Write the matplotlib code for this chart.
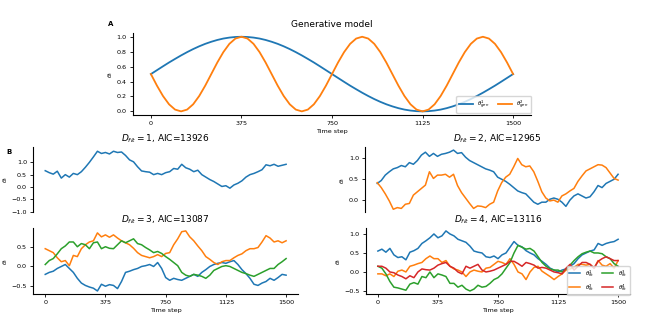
import numpy as np
import matplotlib
matplotlib.use("Agg")
import matplotlib.pyplot as plt

# time grid: one value every 25 steps
t = np.arange(0, 1501, 25)

# panel A: generative model
gen1 = [0.5, .552, .604, .655, .703, .75, .794, .835, .872, .905, .933, .957, .976, .989, .997, 1.0,
        .997, .989, .976, .957, .933, .905, .872, .835, .794, .75, .703, .655, .604, .552, .5,
        .448, .396, .345, .297, .25, .206, .165, .128, .095, .067, .043, .024, .011, .003, 0.0,
        .003, .011, .024, .043, .067, .095, .128, .165, .206, .25, .297, .345, .396, .448, .5]
_per = [.5, .345, .206, .095, .024, 0.0, .024, .095, .206, .345, .5, .655, .794, .905, .976, 1.0, .976, .905, .794, .655]
gen2 = _per + _per + _per + [.5]

# panel B, D_fit = 1
fit1_1 = [0.66, 0.58, 0.52, 0.64, 0.36, 0.50, 0.40, 0.55, 0.50, 0.62, 0.80, 1.00, 1.22, 1.45, 1.36, 1.40,
          1.34, 1.45, 1.40, 1.42, 1.28, 1.10, 1.02, 0.82, 0.65, 0.62, 0.60, 0.50, 0.55, 0.50, 0.58, 0.62,
          0.75, 0.72, 0.92, 0.78, 0.72, 0.62, 0.68, 0.50, 0.40, 0.30, 0.22, 0.12, 0.02, 0.05, -0.05, 0.08,
          0.15, 0.25, 0.40, 0.50, 0.55, 0.62, 0.70, 0.90, 0.86, 0.92, 0.84, 0.88, 0.92]

# D_fit = 2
fit2_1 = [0.40, 0.47, 0.60, 0.68, 0.75, 0.78, 0.83, 0.80, 0.90, 0.86, 0.95, 1.08, 1.15, 1.05, 1.12, 1.05,
          1.10, 1.12, 1.15, 1.20, 1.12, 1.14, 1.03, 0.95, 0.90, 0.85, 0.80, 0.75, 0.72, 0.68, 0.55, 0.50,
          0.45, 0.38, 0.30, 0.22, 0.18, 0.15, 0.05, -0.05, -0.10, -0.05, -0.05, 0.02, 0.05, 0.02, -0.05, -0.15,
          0.00, 0.10, 0.15, 0.10, 0.05, 0.08, 0.20, 0.35, 0.30, 0.40, 0.45, 0.50, 0.62]
fit2_2 = [0.42, 0.30, 0.15, -0.02, -0.22, -0.18, -0.20, -0.10, -0.08, 0.12, 0.20, 0.28, 0.36, 0.68, 0.52, 0.60,
          0.60, 0.62, 0.55, 0.62, 0.35, 0.18, 0.05, -0.08, -0.20, -0.14, -0.15, -0.18, -0.10, -0.05, 0.22, 0.42,
          0.55, 0.62, 0.80, 1.00, 0.85, 0.80, 0.82, 0.68, 0.45, 0.20, 0.05, -0.02, 0.00, -0.05, 0.10, 0.15,
          0.22, 0.28, 0.45, 0.58, 0.70, 0.75, 0.80, 0.85, 0.84, 0.78, 0.65, 0.52, 0.48]

# D_fit = 3
fit3_1 = [-0.20, -0.15, -0.12, -0.05, 0.00, 0.05, -0.05, -0.15, -0.30, -0.42, -0.48, -0.52, -0.55, -0.62, -0.45, -0.50,
          -0.46, -0.48, -0.56, -0.38, -0.15, -0.12, -0.08, -0.05, 0.00, 0.02, 0.05, 0.00, 0.10, -0.05, -0.28, -0.35,
          -0.30, -0.33, -0.35, -0.30, -0.25, -0.20, -0.25, -0.15, -0.08, 0.00, 0.05, 0.08, 0.10, 0.08, 0.12, 0.15,
          0.05, -0.08, -0.18, -0.30, -0.45, -0.48, -0.42, -0.38, -0.30, -0.35, -0.28, -0.20, -0.22]
fit3_2 = [0.45, 0.40, 0.35, 0.22, 0.12, 0.15, 0.02, 0.28, 0.25, 0.45, 0.55, 0.62, 0.65, 0.85, 0.75, 0.80,
          0.74, 0.80, 0.72, 0.65, 0.60, 0.55, 0.46, 0.35, 0.28, 0.25, 0.22, 0.25, 0.30, 0.25, 0.33, 0.35,
          0.55, 0.70, 0.88, 0.90, 0.75, 0.65, 0.52, 0.40, 0.25, 0.18, 0.10, 0.05, 0.12, 0.15, 0.15, 0.22,
          0.28, 0.32, 0.40, 0.45, 0.45, 0.48, 0.62, 0.78, 0.72, 0.62, 0.65, 0.60, 0.65]
fit3_3 = [0.05, 0.15, 0.20, 0.32, 0.45, 0.52, 0.62, 0.62, 0.50, 0.58, 0.55, 0.45, 0.60, 0.62, 0.45, 0.50,
          0.46, 0.45, 0.55, 0.65, 0.60, 0.65, 0.70, 0.58, 0.55, 0.48, 0.42, 0.35, 0.38, 0.33, 0.25, 0.18,
          0.10, 0.02, -0.15, -0.22, -0.25, -0.20, -0.22, -0.25, -0.30, -0.22, -0.10, -0.05, 0.00, 0.02, 0.00, -0.05,
          -0.10, -0.15, -0.18, -0.22, -0.25, -0.20, -0.15, -0.10, -0.05, -0.05, 0.05, 0.12, 0.20]

# D_fit = 4
fit4_1 = [0.55, 0.60, 0.52, 0.62, 0.45, 0.38, 0.40, 0.32, 0.52, 0.56, 0.62, 0.75, 0.82, 0.90, 1.00, 0.90,
          0.95, 1.08, 1.00, 0.95, 0.86, 0.82, 0.78, 0.68, 0.55, 0.52, 0.50, 0.40, 0.38, 0.42, 0.35, 0.45,
          0.50, 0.65, 0.80, 0.70, 0.66, 0.56, 0.50, 0.45, 0.35, 0.28, 0.20, 0.10, 0.05, 0.00, 0.05, 0.08,
          0.15, 0.22, 0.35, 0.45, 0.50, 0.55, 0.58, 0.75, 0.70, 0.75, 0.78, 0.80, 0.86]
fit4_2 = [-0.05, -0.05, -0.10, -0.05, -0.12, 0.02, 0.05, 0.00, 0.15, 0.18, 0.22, 0.25, 0.35, 0.42, 0.35, 0.35,
          0.25, 0.30, 0.15, 0.08, 0.05, 0.00, -0.12, 0.00, 0.05, 0.02, 0.00, 0.10, 0.12, 0.20, 0.28, 0.25,
          0.20, 0.35, 0.20, 0.00, -0.05, -0.20, 0.00, 0.12, 0.15, 0.02, -0.05, -0.12, -0.20, -0.12, -0.05, 0.05,
          0.08, 0.12, 0.20, 0.20, 0.18, 0.20, 0.10, 0.30, 0.18, 0.15, 0.22, 0.10, 0.30]
fit4_3 = [0.15, 0.10, -0.05, -0.25, -0.40, -0.42, -0.45, -0.48, -0.32, -0.28, -0.32, -0.12, -0.15, 0.00, -0.15, -0.05,
          -0.08, -0.12, -0.30, -0.30, -0.40, -0.35, -0.45, -0.50, -0.45, -0.35, -0.40, -0.38, -0.30, -0.20, -0.15, -0.05,
          0.10, 0.25, 0.50, 0.70, 0.65, 0.60, 0.62, 0.55, 0.40, 0.25, 0.15, 0.08, 0.05, 0.05, 0.00, 0.08,
          0.18, 0.30, 0.40, 0.48, 0.52, 0.55, 0.50, 0.50, 0.48, 0.40, 0.35, 0.22, 0.15]
fit4_4 = [0.15, 0.15, 0.10, 0.00, -0.02, -0.08, -0.12, -0.18, -0.10, -0.15, 0.00, 0.08, 0.06, 0.05, 0.10, 0.18,
          0.22, 0.25, 0.15, 0.10, 0.00, -0.05, 0.15, 0.10, 0.15, 0.20, 0.05, 0.00, 0.02, 0.05, 0.10, 0.15,
          0.20, 0.28, 0.28, 0.22, 0.15, 0.25, 0.22, 0.18, 0.10, 0.12, 0.10, 0.05, 0.00, -0.02, -0.05, 0.10,
          0.20, 0.05, 0.15, 0.25, 0.25, 0.20, 0.10, 0.28, 0.35, 0.40, 0.35, 0.30, 0.30]

titles = [r"$D_{fit} = 1$, AIC=13926", r"$D_{fit} = 2$, AIC=12965",
          r"$D_{fit} = 3$, AIC=13087", r"$D_{fit} = 4$, AIC=13116"]
xticks = [0, 375, 750, 1125, 1500]

plt.rcParams['font.size'] = 4.6
plt.rcParams['axes.linewidth'] = 0.8
plt.rcParams['xtick.major.size'] = 2.5
plt.rcParams['ytick.major.size'] = 2.5
plt.rcParams['xtick.major.width'] = 0.6
plt.rcParams['ytick.major.width'] = 0.6
plt.rcParams['xtick.major.pad'] = 2
plt.rcParams['ytick.major.pad'] = 2

fig = plt.figure(figsize=(6.64, 3.27), dpi=100)


def style(ax, bottom=True):
    ax.spines['top'].set_visible(False)
    ax.spines['right'].set_visible(False)
    if not bottom:
        ax.spines['bottom'].set_visible(False)
        ax.set_xticks([])
    else:
        ax.set_xticks(xticks)
        ax.set_xlabel("Time step", labelpad=2)
    ax.set_ylabel(r"$\theta_t$", labelpad=1)


# A
axA = fig.add_axes([0.200, 0.648, 0.600, 0.251])
axA.plot(t, gen1, lw=1.3, label=r"$\theta^1_{gen}$")
axA.plot(t, gen2, lw=1.3, label=r"$\theta^2_{gen}$")
axA.set_title("Generative model", fontsize=6.5, pad=4)
style(axA)
axA.legend(loc='lower right', ncol=2, fontsize=4, handlelength=2.5, borderaxespad=0.1,
           bbox_to_anchor=(1.0, 0.02), columnspacing=1.5)
fig.text(0.162, 0.922, "A", fontsize=5, fontweight='bold')

# B
lw = 1.1
ax1 = fig.add_axes([0.050, 0.353, 0.399, 0.198])
ax1.plot(t, fit1_1, lw=lw)
ax1.set_ylim(-1.0, 1.63)
ax1.set_yticks([-1.0, -0.5, 0.0, 0.5, 1.0])
ax1.set_title(titles[0], fontsize=6.5, pad=4)
style(ax1, bottom=False)
fig.text(0.010, 0.530, "B", fontsize=5, fontweight='bold')

ax2 = fig.add_axes([0.550, 0.351, 0.399, 0.199])
ax2.plot(t, fit2_1, lw=lw)
ax2.plot(t, fit2_2, lw=lw)
ax2.set_title(titles[1], fontsize=6.5, pad=4)
style(ax2, bottom=False)

ax3 = fig.add_axes([0.050, 0.101, 0.399, 0.202])
ax3.plot(t, fit3_1, lw=lw)
ax3.plot(t, fit3_2, lw=lw)
ax3.plot(t, fit3_3, lw=lw)
ax3.set_title(titles[2], fontsize=6.5, pad=4)
style(ax3)

ax4 = fig.add_axes([0.551, 0.101, 0.398, 0.202])
ax4.plot(t, fit4_1, lw=lw, label=r"$\theta^1_{fit}$")
ax4.plot(t, fit4_2, lw=lw, label=r"$\theta^2_{fit}$")
ax4.plot(t, fit4_3, lw=lw, label=r"$\theta^3_{fit}$")
ax4.plot(t, fit4_4, lw=lw, label=r"$\theta^4_{fit}$")
ax4.set_title(titles[3], fontsize=6.5, pad=4)
style(ax4)
ax4.legend(loc='lower right', ncol=2, fontsize=4, handlelength=2.0, borderaxespad=0.1,
           bbox_to_anchor=(1.0, -0.02), columnspacing=1.5)

fig.savefig("out.png", dpi=100)
